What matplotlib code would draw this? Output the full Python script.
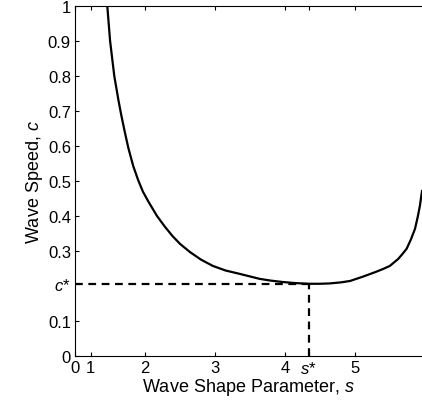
import numpy as np
import matplotlib.pyplot as plt

plt.rcParams['font.family'] = ['Liberation Sans', 'DejaVu Sans']
plt.rcParams['mathtext.fontset'] = 'custom'
plt.rcParams['mathtext.it'] = 'Liberation Sans:italic'
plt.rcParams['mathtext.rm'] = 'Liberation Sans'

# curve
s_vals = [1.46, 1.48, 1.50, 1.53, 1.56, 1.59, 1.62, 1.66, 1.71, 1.76, 1.83,
          1.90, 1.97, 2.05, 2.17, 2.28, 2.39, 2.50, 2.64, 2.80, 2.97, 3.15,
          3.36, 3.64, 3.80, 3.97, 4.15, 4.34, 4.50, 4.64, 4.80, 4.93, 5.11,
          5.30, 5.40, 5.50, 5.62, 5.68, 5.74, 5.80, 5.86, 5.90, 5.93, 5.96]
c_vals = [1.00, 0.95, 0.90, 0.85, 0.80, 0.765, 0.73, 0.688, 0.64, 0.595, 0.543,
          0.503, 0.469, 0.44, 0.40, 0.37, 0.343, 0.32, 0.297, 0.275, 0.257, 0.244,
          0.234, 0.22, 0.215, 0.211, 0.208, 0.206, 0.206, 0.207, 0.210, 0.214, 0.226,
          0.240, 0.248, 0.257, 0.277, 0.291, 0.306, 0.332, 0.363, 0.398, 0.429, 0.471]
s_star = 4.34
c_star = 0.206

x_ticks = [1.0, 1.22, 2, 3, 4, s_star, 5]
x_labels = ['0', '1', '2', '3', '4', '$s$*', '5']
y_ticks = [0, 0.1, c_star, 0.3, 0.4, 0.5, 0.6, 0.7, 0.8, 0.9, 1]
y_labels = ['0', '0.1', '$c$*', '0.3', '0.4', '0.5', '0.6', '0.7', '0.8', '0.9', '1']

fig = plt.figure(figsize=(4.22, 4.06), dpi=100)
ax = fig.add_axes([0.178, 0.121, 0.822, 0.862])

ax.plot(s_vals, c_vals, color='black', lw=1.6, solid_joinstyle='round')
ax.plot([1.0, s_star], [c_star, c_star], color='black', lw=1.6, dashes=(3.5, 2.5))
ax.plot([s_star, s_star], [0, c_star], color='black', lw=1.6, dashes=(3.5, 2.5))

ax.set_xlim(1.0, 5.96)
ax.set_ylim(0, 1)
ax.set_xticks(x_ticks)
ax.set_xticklabels(x_labels, fontsize=12)
ax.set_yticks(y_ticks)
ax.set_yticklabels(y_labels, fontsize=12)
ax.tick_params(direction='in', top=True, right=False, length=3, pad=3)
ax.spines['right'].set_visible(False)
for sp in ['left', 'bottom', 'top']:
    ax.spines[sp].set_linewidth(0.8)

ax.set_xlabel('Wave Shape Parameter, $s$', fontsize=13, labelpad=0)
ax.set_ylabel('Wave Speed, $c$', fontsize=13, labelpad=2)

fig.savefig('out.png', dpi=100)
